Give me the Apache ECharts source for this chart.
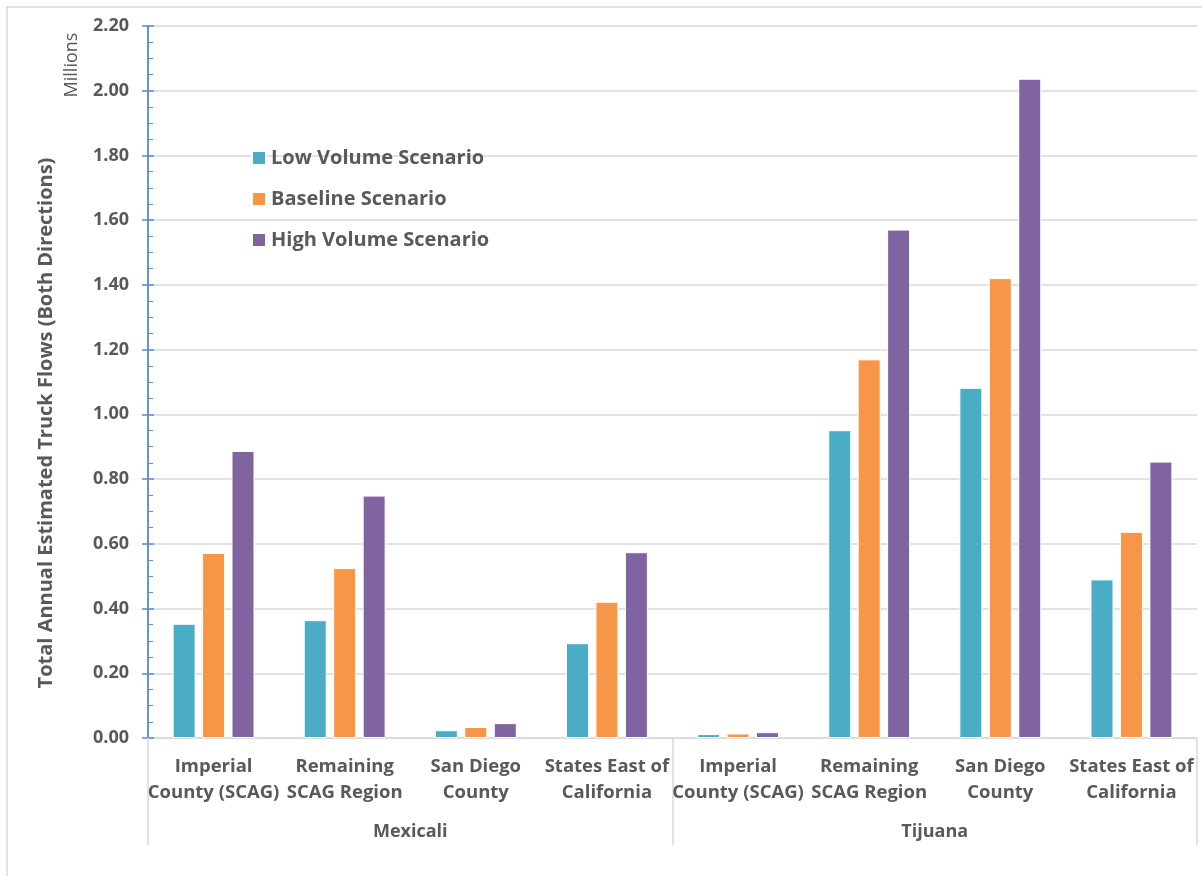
<!DOCTYPE html>
<html>
<head>
<meta charset="utf-8">
<script src="https://cdn.jsdelivr.net/npm/echarts@6/dist/echarts.min.js"></script>
<style>
html,body{margin:0;padding:0;background:#fff;}
#chart{width:1202px;height:876px;}
</style>
</head>
<body>
<div id="chart"></div>
<script>
const categories = [
  'Imperial\nCounty (SCAG)', 'Remaining\nSCAG Region', 'San Diego\nCounty', 'States East of\nCalifornia',
  'Imperial\nCounty (SCAG)', 'Remaining\nSCAG Region', 'San Diego\nCounty', 'States East of\nCalifornia'
];
const groups = ['Mexicali', 'Tijuana'];
const lowVolume  = [0.353, 0.364, 0.024, 0.293, 0.012, 0.951, 1.082, 0.490];
const baseline   = [0.572, 0.525, 0.034, 0.421, 0.014, 1.170, 1.421, 0.637];
const highVolume = [0.887, 0.749, 0.046, 0.574, 0.018, 1.571, 2.037, 0.854];
const seriesNames = ['Low Volume Scenario', 'Baseline Scenario', 'High Volume Scenario'];
const colors = ['#4BACC6', '#F79646', '#8064A2'];

const FONT = 'Open Sans';
const TXT = '#595959';
const AXISBLUE = '#5B8CCB';
const GRID = '#d9d9d9';

const chart = echarts.init(document.getElementById('chart'), null, {renderer: 'canvas'});
const mk = (name, data, i) => ({
  name, type: 'bar', data, xAxisIndex: 0, yAxisIndex: 0,
  barWidth: 23, barGap: '28%',
  itemStyle: {color: colors[i], borderColor: '#ffffff', borderWidth: 1},
  emphasis: {disabled: true}
});
chart.setOption({
  animation: false,
  textStyle: {fontFamily: FONT},
  grid: {left: 148, right: 5, top: 26, bottom: 138, containLabel: false},
  legend: {
    orient: 'vertical', left: 246, top: 143, itemWidth: 14, itemHeight: 14, itemGap: 21,
    icon: 'rect',
    textStyle: {fontFamily: FONT, fontSize: 20, fontWeight: 'bold', color: TXT, padding: [0,0,0,0]},
    data: seriesNames
  },
  xAxis: [{
    type: 'category', data: categories, position: 'bottom',
    axisLine: {show: true, lineStyle: {color: GRID, width: 1.5}},
    axisTick: {show: false},
    axisLabel: {interval: 0, fontFamily: FONT, fontSize: 18.5, fontWeight: 'bold', color: TXT, lineHeight: 26, margin: 16}
  }, {
    type: 'category', data: groups, position: 'bottom', offset: 0,
    axisLine: {show: false},
    axisTick: {show: true, length: 107, lineStyle: {color: GRID, width: 1.5}},
    axisLabel: {fontFamily: FONT, fontSize: 18, fontWeight: 'bold', color: TXT, margin: 85}
  }],
  yAxis: [{
    type: 'value', min: 0, max: 2.2, interval: 0.2,
    axisLine: {show: true, lineStyle: {color: AXISBLUE, width: 1.5}},
    axisTick: {show: true, inside: false, length: 6, lineStyle: {color: AXISBLUE, width: 1.5}},
    splitLine: {show: true, lineStyle: {color: GRID, width: 1.5}},
    axisLabel: {fontFamily: FONT, fontSize: 18, fontWeight: 'bold', color: TXT, margin: 19,
      formatter: v => v.toFixed(2)}
  }, {
    type: 'value', min: 0, max: 2.2, interval: 0.2, position: 'left',
    axisLine: {show: true, lineStyle: {color: AXISBLUE, width: 1.5}},
    axisTick: {show: true, inside: true, length: 6, lineStyle: {color: AXISBLUE, width: 1.5}},
    minorTick: {show: true, splitNumber: 4, length: 5, lineStyle: {color: AXISBLUE, width: 1}},
    splitLine: {show: false},
    axisLabel: {show: false}
  }],
  series: [
    mk(seriesNames[0], lowVolume, 0),
    mk(seriesNames[1], baseline, 1),
    mk(seriesNames[2], highVolume, 2)
  ],
  graphic: [
    {type: 'rect', shape: {x: 7, y: 7, width: 1210, height: 900}, style: {fill: 'none', stroke: GRID, lineWidth: 1.5}, silent: true, z: -10},
    {type: 'text', x: 72, y: 65, rotation: Math.PI / 2,
      style: {text: 'Millions', fontFamily: FONT, fontSize: 18, fill: TXT, textAlign: 'center', textVerticalAlign: 'middle'}},
    {type: 'text', x: 46, y: 423, rotation: Math.PI / 2,
      style: {text: 'Total Annual Estimated Truck Flows (Both Directions)', fontFamily: FONT, fontSize: 20, fontWeight: 'bold', fill: TXT, textAlign: 'center', textVerticalAlign: 'middle'}}
  ]
});
</script>
</body>
</html>
